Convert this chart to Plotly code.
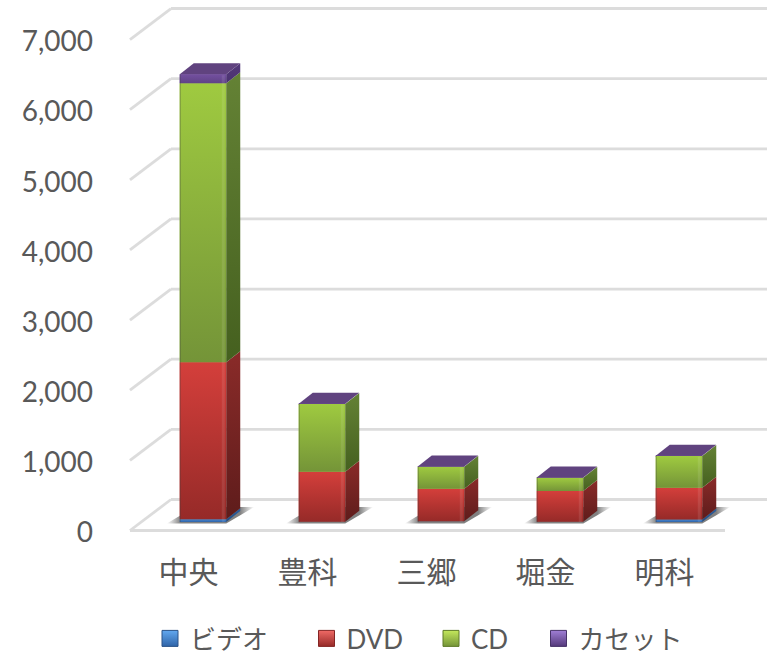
import plotly.graph_objects as go

categories = ["中央", "豊科", "三郷", "堀金", "明科"]
series_names = ["ビデオ", "DVD", "CD", "カセット"]
video = [40, 5, 10, 5, 35]
dvd = [2239, 711, 464, 436, 454]
cd = [3975, 965, 314, 190, 451]
cassette = [130, 5, 5, 5, 5]
y_ticks = [0, 1000, 2000, 3000, 4000, 5000, 6000, 7000]

series_values = [video, dvd, cd, cassette]
# (front top, front bottom, side top, side bottom)
face_colors = [
    ("#4a86cf", "#2f64a8", "#2d5f9f", "#234c80"),
    ("#d43f3b", "#962a28", "#8a2b29", "#5e1c1b"),
    ("#9fca40", "#749438", "#648235", "#45601f"),
    ("#7450a0", "#5f4286", "#54397a", "#4a3270"),
]
top_color = "#60437f"

W, H = 777, 655
L, R, T, B = 126, 771, 5, 535        # plot area in the page
AX_L, AX_B = 130, 530.5              # where the front-left corner of the 3D floor sits
WALL_R = 767
BAND = 119.0
UNIT = 0.07014
X0 = -0.5
XEND = X0 + (WALL_R - AX_L) / BAND


def px_dx(p):
    return p / BAND


def px_dy(p):
    return p / UNIT


wall_dx, wall_dy = px_dx(41), px_dy(31)
bar_dx, bar_dy = px_dx(13.5), px_dy(8.5)
bar_w = px_dx(46.5)
side_dx, side_dy = px_dx(14), px_dy(11)

fig = go.Figure()
shapes = []
GRID = dict(color="#dcdcdc", width=2.8)
for v in y_ticks:
    if v == 0:
        continue
    shapes.append(dict(type="line", x0=X0, y0=v, x1=X0 + wall_dx, y1=v + wall_dy, line=GRID, layer="below"))
    shapes.append(dict(type="line", x0=X0 + wall_dx, y0=v + wall_dy, x1=XEND, y1=v + wall_dy, line=GRID, layer="below"))
# floor
shapes.append(dict(type="line", x0=X0, y0=0, x1=X0 + wall_dx, y1=wall_dy, line=GRID, layer="below"))
shapes.append(dict(type="line", x0=X0 + wall_dx, y0=wall_dy, x1=XEND, y1=wall_dy, line=GRID, layer="below"))
shapes.append(dict(type="line", x0=X0, y0=0, x1=len(categories) - 0.5, y1=0, line=GRID, layer="below"))

# real stacked bars for front faces
for k, (name, vals) in enumerate(zip(series_names, series_values)):
    bases = [bar_dy + sum(series_values[j][i] for j in range(k)) for i in range(len(categories))]
    fig.add_bar(
        x=[i + bar_dx for i in range(len(categories))], y=vals, base=bases, width=bar_w,
        marker=dict(color=face_colors[k][0], line=dict(width=0)), showlegend=False, name=name,
    )


def poly(xs, ys, color=None, grad=None, orient="vertical"):
    kw = dict(x=xs + xs[:1], y=ys + ys[:1], mode="lines", line=dict(width=0), fill="toself",
              showlegend=False, hoverinfo="skip", cliponaxis=False)
    if grad:
        kw["fillgradient"] = dict(type=orient, colorscale=grad)
    else:
        kw["fillcolor"] = color
    fig.add_trace(go.Scatter(**kw))


# floor shadows
for i in range(len(categories)):
    cx = i + bar_dx - bar_w / 2
    poly([cx - px_dx(13), cx + bar_w, cx + bar_w + px_dx(28), cx + px_dx(15)],
         [bar_dy - px_dy(1.5), bar_dy - px_dy(1.5), bar_dy + px_dy(15), bar_dy + px_dy(15)],
         grad=[[0, "rgba(130,130,130,0)"], [0.16, "rgba(115,115,115,0.9)"], [0.84, "rgba(115,115,115,0.9)"], [1, "rgba(130,130,130,0)"]],
         orient="horizontal")

# 3D faces, computed from the same values
for i in range(len(categories)):
    x0 = i + bar_dx - bar_w / 2
    x1 = x0 + bar_w
    acc = bar_dy
    for k, vals in enumerate(series_values):
        v = vals[i]
        lo, hi = acc, acc + v
        acc = hi
        ft, fb, st, sb = face_colors[k]
        poly([x0, x1, x1, x0], [lo, lo, hi, hi], grad=[[0, fb], [1, ft]])
        poly([x1, x1 + side_dx, x1 + side_dx, x1], [lo, lo + side_dy, hi + side_dy, hi], grad=[[0, sb], [1, st]])
    poly([x0, x1, x1 + side_dx, x0 + side_dx], [acc, acc, acc + side_dy, acc + side_dy], color=top_color)
    # bevel: soft light strip by the right edge, soft dark line on the left edge
    tot = acc - px_dy(1)
    poly([x1 - px_dx(4.5), x1 - px_dx(1.5), x1 - px_dx(1.5), x1 - px_dx(4.5)], [bar_dy, bar_dy, tot, tot],
         color="rgba(255,255,255,0.09)")
    poly([x0, x0 + px_dx(1.2), x0 + px_dx(1.2), x0], [bar_dy, bar_dy, acc, acc], color="rgba(60,60,60,0.28)")

# legend
legend_centers = [175, 331.5, 456, 563.5]
legend_colors = ["#2f64a8", "#962a28", "#749438", "#54397a"]
legend_tops = ["#62a8f0", "#f06a66", "#c4e85c", "#a07fd6"]
legend_lines = ["#2a5288", "#842524", "#5f7a28", "#473368"]
layout_legends = {}
for k, name in enumerate(series_names):
    key = "legend" if k == 0 else f"legend{k + 1}"
    fig.add_trace(go.Scatter(x=[None], y=[None], mode="markers", name=name, legend=key,
                             marker=dict(symbol="square", size=16, color=legend_tops[k],
                                         gradient=dict(type="vertical", color=legend_colors[k]),
                                         line=dict(color=legend_lines[k], width=1))))
    layout_legends[key] = dict(
        xref="container", yref="container", x=(legend_centers[k] - 25) / W, y=1 - 638.5 / H,
        xanchor="left", yanchor="middle", bgcolor="rgba(0,0,0,0)", itemsizing="trace",
        font=dict(size=26, color="#595959", family="Lato, Noto Sans CJK JP"),
    )

FONT = "Lato, Noto Sans CJK JP"
fig.update_layout(
    width=W, height=H, margin=dict(l=L, r=W - R, t=T, b=H - B, autoexpand=False),
    paper_bgcolor="white", plot_bgcolor="white", barmode="overlay", shapes=shapes,
    showlegend=True,
    xaxis=dict(range=[X0 - px_dx(AX_L - L), X0 + px_dx(R - AX_L)],
               tickvals=list(range(len(categories))), ticktext=categories,
               showgrid=False, zeroline=False, showline=False, ticks="", ticklabelstandoff=17,
               ticklabelshift=-1,
               tickfont=dict(size=30, color="#595959", family=FONT), tickangle=0),
    yaxis=dict(range=[-px_dy(B - AX_B), px_dy(AX_B - T)], tickvals=y_ticks, tickformat=",",
               showgrid=False, zeroline=False, showline=False, ticks="", ticklabelstandoff=32,
               ticklabelshift=2,
               tickfont=dict(size=28, color="#595959", family=FONT)),
    **layout_legends,
)
fig.write_html("out.html", config={"displayModeBar": False},
               post_script="document.body.style.margin='0';document.body.style.overflow='hidden';")
